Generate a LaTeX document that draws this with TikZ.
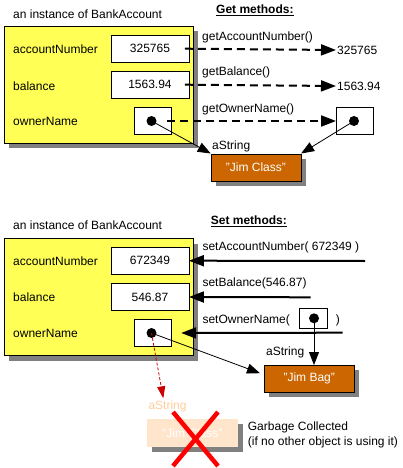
\documentclass[tikz,border=0pt]{standalone}
\usepackage{fontspec}
\setmainfont{Liberation Sans}
\usetikzlibrary{arrows.meta,shadows}
\definecolor{objyellow}{HTML}{FFFF55}
\definecolor{strorange}{HTML}{CC6600}
\definecolor{shadowgray}{HTML}{808080}
\definecolor{fadedfill}{HTML}{FFE5CC}
\definecolor{fadedtext}{HTML}{FFCC99}
\definecolor{gcred}{HTML}{CC0000}

\begin{document}
\begin{tikzpicture}[x=1pt,y=-1pt,font=\fontsize{12}{14}\selectfont,
	txt/.style={anchor=west,inner sep=0pt},
	shadowed/.style={drop shadow={shadow xshift=5pt,shadow yshift=-5pt,fill=shadowgray,opacity=1}},
	objbox/.style={draw,fill=objyellow,anchor=north west,minimum width=189pt,minimum height=117pt,shadowed},
	valbox/.style={draw,fill=white,anchor=north west,minimum width=77.5pt,minimum height=27pt,inner sep=0pt},
	refbox/.style={draw,fill=white,anchor=north west,minimum width=36.5pt,minimum height=27pt,inner sep=0pt},
	refdot/.style={circle,fill,inner sep=0pt,minimum size=10pt},
	strbox/.style={draw,fill=strorange,text=white,anchor=north west,minimum width=90pt,minimum height=27pt,inner sep=0pt,shadowed},
	getarrow/.style={line width=2pt,dash pattern=on 8pt off 5pt,-{Triangle[length=15pt,width=11pt]}},
	setarrow/.style={line width=2pt,-{Triangle[length=15pt,width=11pt]}},
	refarrow/.style={line width=0.8pt,-{Triangle[length=13pt,width=10pt]}}]
	
	\useasboundingbox (0,0) rectangle (402,468);
	
	% get methods
	\node[txt] (title1) at (13,14) {an instance of BankAccount};
	\node[txt] (gettitle) at (216,10) {\underline{\textbf{Get methods:}}};
	\node[objbox] (obj1) at (3.5,26) {};
	\node[txt] (acc1) at (13,49) {accountNumber};
	\node[txt] (bal1) at (13,86) {balance};
	\node[txt] (own1) at (13,121) {ownerName};
	\node[valbox] (accval1) at (111,35) {325765};
	\node[valbox] (balval1) at (111,71) {1563.94};
	\node[refbox] (ownref1) at (134.3,107.3) {};
	\node[refdot] (owndot1) at (151.5,121) {};
	
	\node[txt] (getacc) at (202,37) {getAccountNumber()};
	\node[txt] (getbal) at (202,72) {getBalance()};
	\node[txt] (getown) at (202,109) {getOwnerName()};
	\node[anchor=west,inner sep=1pt] (accout) at (336,50) {325765};
	\node[anchor=west,inner sep=1pt] (balout) at (336,86) {1563.94};
	\node[refbox] (ownout) at (336,107.3) {};
	\node[refdot] (outdot) at (354,121) {};
	
	\node[txt] (strlbl1) at (212,146) {aString};
	\node[strbox] (str1) at (210.7,153.5) {"Jim Class"};
	
	\draw[getarrow] ([xshift=-4pt]accval1.east) to (accout.west);
	\draw[getarrow] ([xshift=-4pt]balval1.east) to (balout.west);
	\draw[getarrow] ([xshift=-4pt]ownref1.east) to (ownout.west);
	\draw[refarrow] (owndot1.center) to (str1.north west);
	\draw[refarrow] (outdot.center) to (str1.north east);
	
	% set methods
	\node[txt] (title2) at (13,225.7) {an instance of BankAccount};
	\node[txt] (settitle) at (210.7,221) {\underline{\textbf{Set methods:}}};
	\node[objbox] (obj2) at (3.5,238.3) {};
	\node[txt] (acc2) at (13,261.7) {accountNumber};
	\node[txt] (bal2) at (13,297.7) {balance};
	\node[txt] (own2) at (13,333.7) {ownerName};
	\node[valbox] (accval2) at (111,247) {672349};
	\node[valbox] (balval2) at (111,283.3) {546.87};
	\node[refbox] (ownref2) at (134.3,319.3) {};
	\node[refdot] (owndot2) at (151.5,333) {};
	
	\node[txt] (setacc) at (202.3,247.3) {setAccountNumber( 672349 )};
	\node[txt] (setbal) at (202.3,283.3) {setBalance(546.87)};
	\node[txt] (setown) at (202.3,320) {setOwnerName(};
	\node[draw,anchor=north west,minimum width=28pt,minimum height=20pt,inner sep=0pt] (argbox) at (299.3,308.3) {};
	\node[refdot] (argdot) at (314,318.3) {};
	\node[txt] (argclose) at (335.7,320) {)};
	
	\coordinate (setaccin) at (365,261);
	\coordinate (setbalin) at (310.7,297.3);
	\coordinate (setownin) at (342.7,332.7);
	\draw[setarrow] (setaccin) to (accval2.east);
	\draw[setarrow] (setbalin) to (balval2.east);
	\draw[setarrow,shorten >=10pt] (setownin) to (ownref2.east);
	
	\node[txt] (strlbl2) at (266,352.7) {aString};
	\node[strbox] (str2) at (264,365) {"Jim Bag"};
	\draw[refarrow] (argdot.center) to (argdot.center |- str2.north);
	\draw[refarrow] (owndot2.center) to ([xshift=-4pt,yshift=5.5pt]str2.west);
	
	% garbage collected string
	\coordinate (gone) at (163.3,398.3);
	\draw[gcred,line width=0.8pt,dash pattern=on 3pt off 2pt,-{Triangle[length=12pt,width=8pt]}] (owndot2.center) to (gone);
	\node[txt,text=fadedtext] (strlbl3) at (148.3,406.7) {aString};
	\node[fill=fadedfill,text=white,anchor=north west,minimum width=91pt,minimum height=27.7pt,inner sep=0pt,shadowed] (str3) at (146.7,419) {"Jim Class"};
	\draw[red,line width=4.5pt] (173,412) -- (218,466);
	\draw[red,line width=4.5pt] (218,412) -- (173,466);
	\node[txt] (gc1) at (247.7,427.7) {Garbage Collected};
	\node[txt] (gc2) at (247.7,442.3) {(if no other object is using it)};

\end{tikzpicture}
\end{document}
